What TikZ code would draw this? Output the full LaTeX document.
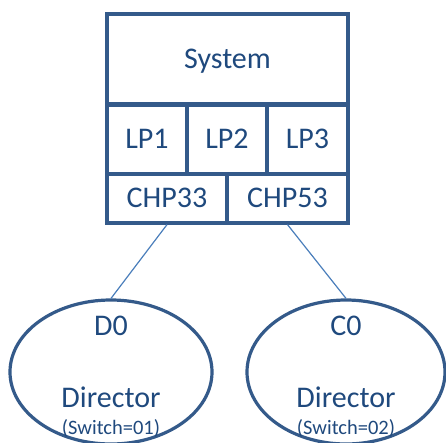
\documentclass[tikz,border=0pt]{standalone}
\usepackage{fontspec}
\setmainfont{Carlito}
\usetikzlibrary{shapes.geometric}
\definecolor{bord}{HTML}{345A8A}
\definecolor{txt}{HTML}{1F497D}
\definecolor{conn}{HTML}{4A7EBB}
\begin{document}
\begin{tikzpicture}[x=1pt,y=-1pt,
  cell/.style={draw=bord, line width=3.2pt, rectangle, inner sep=0pt, text=txt,
    font=\fontsize{30}{33}\selectfont, text height=18.8pt, text depth=0pt},
  dir/.style={draw=bord, line width=3.2pt, ellipse, inner sep=0pt},
  big/.style={text=txt, font=\fontsize{30}{33}\selectfont, inner sep=0pt, anchor=base},
  small/.style={text=txt, font=\fontsize{20.5}{22}\selectfont, inner sep=0pt, anchor=base},
  link/.style={draw=conn, line width=1.2pt}]
\useasboundingbox (0,0) rectangle (446,442);
\begin{scope}
\clip (0,0) rectangle (446,442);
\node[cell, minimum width=241pt, minimum height=91pt] (sys) at (227.5,59.5) {System};
\node[cell, minimum width=80pt, minimum height=70pt] (lp1) at (147,139) {LP1};
\node[cell, minimum width=80pt, minimum height=70pt] (lp2) at (227,139) {LP2};
\node[cell, minimum width=81pt, minimum height=70pt] (lp3) at (307.5,139) {LP3};
\node[cell, minimum width=120pt, minimum height=49pt] (chp33) at (167,198.5) {CHP33};
\node[cell, minimum width=121pt, minimum height=49pt] (chp53) at (287.5,198.5) {CHP53};
\node[dir, minimum width=202pt, minimum height=144pt] (d0) at (111,372) {};
\node[dir, minimum width=198pt, minimum height=144pt] (c0) at (346,372) {};
\end{scope}
\node[big] (d0name) at (111,335) {D0};
\node[big] (d0dir) at (111,407) {Director};
\node[small] (d0sw) at (111,434) {(Switch=01)};
\node[big] (c0name) at (346,335) {C0};
\node[big] (c0dir) at (346,407) {Director};
\node[small] (c0sw) at (346,434) {(Switch=02)};
\draw[link] (chp33.south) -- (d0.north);
\draw[link] (chp53.south) -- (c0.north);
\end{tikzpicture}
\end{document}
